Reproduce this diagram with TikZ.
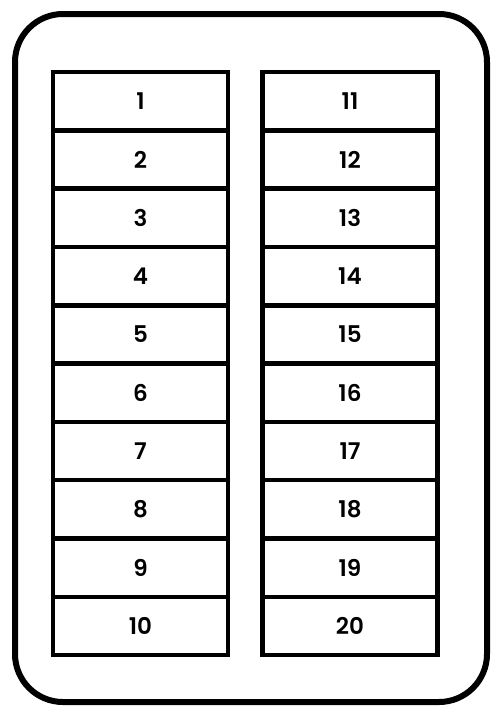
\documentclass[tikz,border=0pt]{standalone}
\usepackage{fontspec}
\setmainfont{Poppins}[UprightFont=* SemiBold]
\usetikzlibrary{positioning}

\begin{document}
\begin{tikzpicture}[x=1pt,y=-1pt,
  fuse/.style={draw,line width=4.5pt,outer sep=0pt,inner sep=0pt,
    minimum width=175pt,minimum height=58.3pt,
    font=\fontsize{23}{26}\selectfont}]
\useasboundingbox (0,0) rectangle (493,710);
\draw[line width=6pt,rounded corners=48pt] (15,14) rectangle (487,702);
\node[fuse] (f1) at (140.5,101.2) {1};
\foreach \i [remember=\i as \j (initially 1)] in {2,...,10}
  \node[fuse,below=0pt of f\j] (f\i) {\i};
\node[fuse] (f11) at (350,101.2) {11};
\foreach \i [remember=\i as \j (initially 11)] in {12,...,20}
  \node[fuse,below=0pt of f\j] (f\i) {\i};
\end{tikzpicture}
\end{document}
